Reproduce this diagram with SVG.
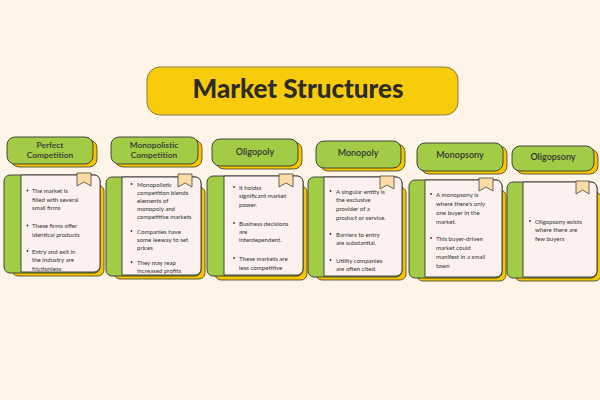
<svg xmlns="http://www.w3.org/2000/svg" width="600" height="400" viewBox="0 0 600 400">
<defs>
<style>
.bg{fill:#FEF5E8}
.sh{fill:#F7C600;stroke:#3a3a2a;stroke-width:0.8}
.hd{fill:#A2CC45;stroke:#333;stroke-width:0.9}
.strip{fill:#A2CC45;stroke:#333;stroke-width:0.9}
.body{fill:#FCF1EE;stroke:#333;stroke-width:0.9}
.bm{fill:#FDDBA5;stroke:#444;stroke-width:0.8;stroke-linejoin:round}
.ht{font-family:Lato,"Noto Sans",sans-serif;font-size:9px;font-weight:600;fill:#333;text-anchor:middle}
.ht2{font-family:Lato,"Noto Sans",sans-serif;font-size:8.4px;font-weight:600;fill:#333;text-anchor:middle}
.bt{font-family:Lato,"Noto Sans",sans-serif;font-size:6.1px;fill:#333}
.dot{fill:#333}
.title{font-family:Lato,"Noto Sans",sans-serif;font-size:26px;font-weight:900;fill:#2d2d25;text-anchor:middle}
</style>
<clipPath id="c1"><rect x="21" y="175" width="79" height="96"/></clipPath>
<clipPath id="c2"><rect x="122" y="177" width="79" height="97"/></clipPath>
<clipPath id="c3"><rect x="224" y="176" width="79" height="99"/></clipPath>
<clipPath id="c4"><rect x="324" y="177" width="78" height="98"/></clipPath>
<clipPath id="c5"><rect x="425" y="180" width="77" height="96"/></clipPath>
<clipPath id="c6"><rect x="523" y="182" width="74" height="94"/></clipPath>
</defs>
<rect class="bg" x="0" y="0" width="600" height="400"/>

<g id="title">
<rect x="147" y="67" width="311" height="48" rx="13" fill="#F9CC0B" stroke="#8a7d4a" stroke-width="1"/>
<text class="title" x="298" y="98">Market Structures</text>
</g>

<g id="connectors"></g>

<g id="perfect-competition">
<rect class="sh" x="11" y="140" width="86" height="27" rx="8"/>
<rect class="hd" x="7" y="137" width="86" height="27" rx="8"/>
<text class="ht2" x="50" y="147.8"><tspan x="50">Perfect</tspan><tspan x="50" dy="10">Competition</tspan></text>
<rect class="sh" x="12" y="185" width="92" height="91" rx="6"/>
<rect class="strip" x="4" y="175" width="96" height="98" rx="6"/>
<path class="body" d="M21,175 H94 A6,6 0 0 1 100,181 V266 A6,6 0 0 1 94,272 H21 Z"/>
<path class="bm" d="M77,173 h14 v13 l-7,-4 l-7,4 z"/>
<g clip-path="url(#c1)">
<circle class="dot" cx="27.5" cy="190.5" r="0.9"/>
<text class="bt" x="32" y="193"><tspan x="32">The market is</tspan><tspan x="32" dy="8.6">filled with several</tspan><tspan x="32" dy="8.6">small firms</tspan></text>
<circle class="dot" cx="27.5" cy="225.5" r="0.9"/>
<text class="bt" x="32" y="228"><tspan x="32">These firms offer</tspan><tspan x="32" dy="8.6">identical products</tspan></text>
<circle class="dot" cx="27.5" cy="251" r="0.9"/>
<text class="bt" x="32" y="253.5"><tspan x="32">Entry and exit in</tspan><tspan x="32" dy="8.6">the industry are</tspan><tspan x="32" dy="8.6">frictionless</tspan></text>
</g>
</g>

<g id="monopolistic-competition">
<rect class="sh" x="115" y="140" width="87" height="27" rx="8"/>
<rect class="hd" x="111" y="137" width="87" height="27" rx="8"/>
<text class="ht2" x="154" y="147.8"><tspan x="154">Monopolistic</tspan><tspan x="154" dy="10">Competition</tspan></text>
<rect class="sh" x="114" y="187" width="91" height="92" rx="6"/>
<rect class="strip" x="106" y="177" width="95" height="99" rx="6"/>
<path class="body" d="M122,177 H195 A6,6 0 0 1 201,183 V269 A6,6 0 0 1 195,275 H122 Z"/>
<path class="bm" d="M178,174 h14 v13 l-7,-4 l-7,4 z"/>
<g clip-path="url(#c2)">
<circle class="dot" cx="131.5" cy="184" r="0.9"/>
<text class="bt" x="137" y="186.5"><tspan x="137">Monopolistic</tspan><tspan x="137" dy="8">competition blends</tspan><tspan x="137" dy="8">elements of</tspan><tspan x="137" dy="8">monopoly and</tspan><tspan x="137" dy="8">competitive markets</tspan></text>
<circle class="dot" cx="131.5" cy="231" r="0.9"/>
<text class="bt" x="137" y="233.5"><tspan x="137">Companies have</tspan><tspan x="137" dy="8">some leeway to set</tspan><tspan x="137" dy="8">prices</tspan></text>
<circle class="dot" cx="131.5" cy="262" r="0.9"/>
<text class="bt" x="137" y="264.5"><tspan x="137">They may reap</tspan><tspan x="137" dy="8">increased profits</tspan></text>
</g>
</g>

<g id="oligopoly">
<rect class="sh" x="216" y="142" width="86" height="27" rx="8"/>
<rect class="hd" x="212" y="139" width="86" height="27" rx="8"/>
<text class="ht" x="255" y="155">Oligopoly</text>
<rect class="sh" x="215" y="186" width="92" height="94" rx="6"/>
<rect class="strip" x="207" y="176" width="96" height="100" rx="6"/>
<path class="body" d="M224,176 H297 A6,6 0 0 1 303,182 V269 A6,6 0 0 1 297,275 H224 Z"/>
<path class="bm" d="M279,174 h14 v13 l-7,-4 l-7,4 z"/>
<g clip-path="url(#c3)">
<circle class="dot" cx="234" cy="187" r="0.9"/>
<text class="bt" x="239" y="189.5"><tspan x="239">It holdss</tspan><tspan x="239" dy="8.8">significant market</tspan><tspan x="239" dy="8.8">power.</tspan></text>
<circle class="dot" cx="234" cy="223" r="0.9"/>
<text class="bt" x="239" y="225.5"><tspan x="239">Business decisions</tspan><tspan x="239" dy="8.2">are</tspan><tspan x="239" dy="8.2">interdependent.</tspan></text>
<circle class="dot" cx="234" cy="258" r="0.9"/>
<text class="bt" x="239" y="260.5"><tspan x="239">These markets are</tspan><tspan x="239" dy="9">less competitive</tspan></text>
</g>
</g>

<g id="monopoly">
<rect class="sh" x="320" y="144" width="85" height="27" rx="8"/>
<rect class="hd" x="316" y="141" width="85" height="27" rx="8"/>
<text class="ht" x="358" y="156">Monopoly</text>
<rect class="sh" x="316" y="187" width="90" height="93" rx="6"/>
<rect class="strip" x="308" y="177" width="94" height="100" rx="6"/>
<path class="body" d="M324,177 H396 A6,6 0 0 1 402,183 V270 A6,6 0 0 1 396,276 H324 Z"/>
<path class="bm" d="M380,176 h14 v13 l-7,-4 l-7,4 z"/>
<g clip-path="url(#c4)">
<circle class="dot" cx="330.5" cy="191" r="0.9"/>
<text class="bt" x="336" y="193.5"><tspan x="336">A singular entity is</tspan><tspan x="336" dy="8.8">the exclusive</tspan><tspan x="336" dy="8.8">provider of a</tspan><tspan x="336" dy="8.8">product or service.</tspan></text>
<circle class="dot" cx="330.5" cy="234" r="0.9"/>
<text class="bt" x="336" y="236.5"><tspan x="336">Barriers to entry</tspan><tspan x="336" dy="8.8">are substantial.</tspan></text>
<circle class="dot" cx="330.5" cy="260" r="0.9"/>
<text class="bt" x="336" y="262.5"><tspan x="336">Utility companies</tspan><tspan x="336" dy="8.8">are often cited.</tspan></text>
</g>
</g>

<g id="monopsony">
<rect class="sh" x="421" y="146" width="86" height="28" rx="8"/>
<rect class="hd" x="417" y="143" width="86" height="28" rx="8"/>
<text class="ht" x="460" y="158">Monopsony</text>
<rect class="sh" x="417" y="190" width="89" height="91" rx="6"/>
<rect class="strip" x="409" y="180" width="93" height="98" rx="6"/>
<path class="body" d="M425,180 H496 A6,6 0 0 1 502,186 V271 A6,6 0 0 1 496,277 H425 Z"/>
<path class="bm" d="M479,178 h14 v13 l-7,-4 l-7,4 z"/>
<g clip-path="url(#c5)">
<circle class="dot" cx="431" cy="194" r="0.9"/>
<text class="bt" x="436" y="196.5"><tspan x="436">A monopsony is</tspan><tspan x="436" dy="9">where there's only</tspan><tspan x="436" dy="9">one buyer in the</tspan><tspan x="436" dy="9">market.</tspan></text>
<circle class="dot" cx="431" cy="238" r="0.9"/>
<text class="bt" x="436" y="240.5"><tspan x="436">This buyer-driven</tspan><tspan x="436" dy="9">market could</tspan><tspan x="436" dy="9">manifest in a small</tspan><tspan x="436" dy="9">town</tspan></text>
</g>
</g>

<g id="oligopsony">
<rect class="sh" x="516" y="149" width="82" height="25" rx="8"/>
<rect class="hd" x="512" y="146" width="82" height="25" rx="8"/>
<text class="ht" x="553" y="160">Oligopsony</text>
<rect class="sh" x="515" y="192" width="86" height="89" rx="6"/>
<rect class="strip" x="507" y="182" width="90" height="96" rx="6"/>
<path class="body" d="M523,182 H591 A6,6 0 0 1 597,188 V271 A6,6 0 0 1 591,277 H523 Z"/>
<path class="bm" d="M576,181 h13 v13 l-6.5,-4 l-6.5,4 z"/>
<g clip-path="url(#c6)">
<circle class="dot" cx="530" cy="221" r="0.9"/>
<text class="bt" x="535" y="223.5"><tspan x="535">Oligopsony exists</tspan><tspan x="535" dy="8.6">where there are</tspan><tspan x="535" dy="8.6">few buyers</tspan></text>
</g>
</g>
</svg>
